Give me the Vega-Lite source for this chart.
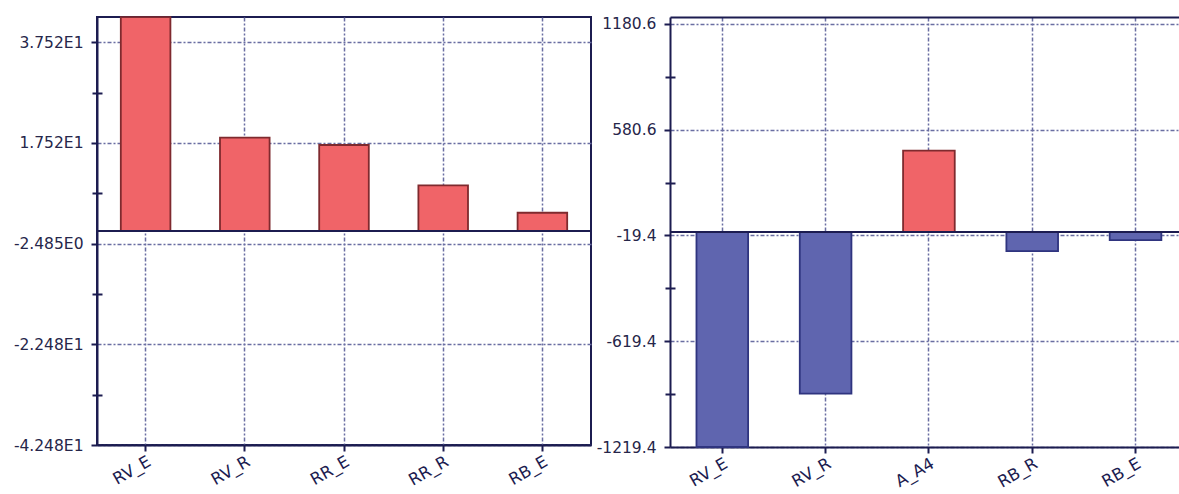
{
  "$schema": "https://vega.github.io/schema/vega-lite/v6.json",
  "padding": {"left": 12, "top": 15, "right": 0, "bottom": 0},
  "background": "white",
  "spacing": 3,
  "config": {
    "font": "DejaVu Sans",
    "axis": {"labelFont": "DejaVu Sans", "labelFontSize": 15.5, "labelColor": "#26264a", "titleFont": "DejaVu Sans"}
  },
  "datasets": {
    "left": [
      {"cat": "RV_E", "value": 42.5},
      {"cat": "RV_R", "value": 18.57},
      {"cat": "RR_E", "value": 17.1},
      {"cat": "RR_R", "value": 9.1},
      {"cat": "RB_E", "value": 3.64}
    ],
    "right": [
      {"cat": "RV_E", "value": -1219.4},
      {"cat": "RV_R", "value": -917},
      {"cat": "A_A4", "value": 462},
      {"cat": "RB_R", "value": -108},
      {"cat": "RB_E", "value": -46}
    ]
  },
  "hconcat": [
    {
      "width": 494,
      "height": 428,
      "view": {"stroke": "#1c1c50", "strokeWidth": 2},
      "data": {"name": "left"},
      "resolve": {"axis": {"x": "independent", "y": "independent"}},
      "layer": [
        {
          "mark": {"type": "bar", "strokeWidth": 1.8},
          "encoding": {
            "x": {"field": "cat", "type": "nominal", "sort": null,
              "scale": {"paddingInner": 0.5, "paddingOuter": 0.24},
              "axis": {"orient": "bottom", "title": null, "labelAngle": -30, "labelAlign": "right", "labelBaseline": "top", "labelFontSize": 16.5, "labelColor": "#1c1c50",
                "grid": true, "bandPosition": 0.5, "gridColor": "#6a6ea2", "gridDash": [4, 2, 2, 2], "gridWidth": 1.5,
                "domainColor": "#1c1c50", "domainWidth": 2, "tickColor": "#1c1c50", "tickWidth": 2, "tickSize": 6, "labelPadding": 2}},
            "y": {"field": "value", "type": "quantitative",
              "scale": {"domain": [-42.48, 42.52], "nice": false, "zero": false},
              "axis": {"orient": "left", "title": null, "values": [-42.48, -22.48, -2.485, 17.52, 37.52],
                "labelExpr": "datum.value < -40 ? '-4.248E1' : datum.value < -20 ? '-2.248E1' : datum.value < 0 ? '-2.485E0' : datum.value < 20 ? '1.752E1' : '3.752E1'",
                "grid": true, "gridColor": "#6a6ea2", "gridDash": [4, 2, 2, 2], "gridWidth": 1.5,
                "domainColor": "#1c1c50", "domainWidth": 2, "tickColor": "#1c1c50", "tickWidth": 2, "tickSize": 6, "labelPadding": 8}},
            "color": {"condition": {"test": "datum.value > 0", "value": "#f06468"}, "value": "#5f65af"},
            "stroke": {"condition": {"test": "datum.value > 0", "value": "#7f2a2e"}, "value": "#2f347f"}
          }
        },
        {
          "mark": {"type": "rule", "color": "#1c1c50", "strokeWidth": 2},
          "encoding": {"y": {"datum": 0, "type": "quantitative", "axis": null}}
        },
        {
          "mark": {"type": "bar", "opacity": 0},
          "encoding": {
            "x": {"field": "cat", "type": "nominal", "sort": null, "axis": null},
            "y": {"field": "value", "type": "quantitative",
              "axis": {"orient": "left", "title": null, "values": [-32.48, -12.48, 7.52, 27.52], "labels": false, "domain": false, "grid": false,
                "tickSize": 10, "offset": -5, "tickColor": "#1c1c50", "tickWidth": 2}}
          }
        }
      ]
    },
    {
      "width": 509,
      "height": 430,
      "view": {"stroke": null},
      "data": {"name": "right"},
      "resolve": {"axis": {"x": "independent", "y": "independent"}},
      "layer": [
        {
          "mark": {"type": "bar", "strokeWidth": 1.8},
          "encoding": {
            "x": {"field": "cat", "type": "nominal", "sort": null,
              "scale": {"paddingInner": 0.5, "paddingOuter": 0.2135, "align": 0.6},
              "axis": {"orient": "bottom", "title": null, "labelAngle": -30, "labelAlign": "right", "labelBaseline": "top", "labelFontSize": 16.5, "labelColor": "#1c1c50",
                "grid": true, "bandPosition": 0.5, "gridColor": "#6a6ea2", "gridDash": [4, 2, 2, 2], "gridWidth": 1.5,
                "domainColor": "#1c1c50", "domainWidth": 2, "tickColor": "#1c1c50", "tickWidth": 2, "tickSize": 6, "labelPadding": 2}},
            "y": {"field": "value", "type": "quantitative",
              "scale": {"domain": [-1219.4, 1219.4], "nice": false, "zero": false},
              "axis": {"orient": "left", "title": null, "values": [-1219.4, -619.4, -19.4, 580.6, 1180.6], "labelExpr": "datum.value + ''",
                "grid": true, "gridColor": "#6a6ea2", "gridDash": [4, 2, 2, 2], "gridWidth": 1.5,
                "domainColor": "#1c1c50", "domainWidth": 2, "tickColor": "#1c1c50", "tickWidth": 2, "tickSize": 6, "labelPadding": 8}},
            "color": {"condition": {"test": "datum.value > 0", "value": "#f06468"}, "value": "#5f65af"},
            "stroke": {"condition": {"test": "datum.value > 0", "value": "#7f2a2e"}, "value": "#2f347f"}
          }
        },
        {
          "mark": {"type": "rule", "color": "#1c1c50", "strokeWidth": 2},
          "encoding": {"y": {"datum": 0, "type": "quantitative", "axis": null}}
        },
        {
          "mark": {"type": "bar", "opacity": 0},
          "encoding": {
            "x": {"field": "cat", "type": "nominal", "sort": null,
              "axis": {"orient": "top", "title": null, "labels": false, "ticks": false, "grid": false, "domain": true, "domainColor": "#1c1c50", "domainWidth": 2}},
            "y": {"field": "value", "type": "quantitative",
              "axis": {"orient": "left", "title": null, "values": [-919.4, -319.4, 280.6, 880.6], "labels": false, "domain": false, "grid": false,
                "tickSize": 10, "offset": -5, "tickColor": "#1c1c50", "tickWidth": 2}}
          }
        }
      ]
    }
  ]
}
